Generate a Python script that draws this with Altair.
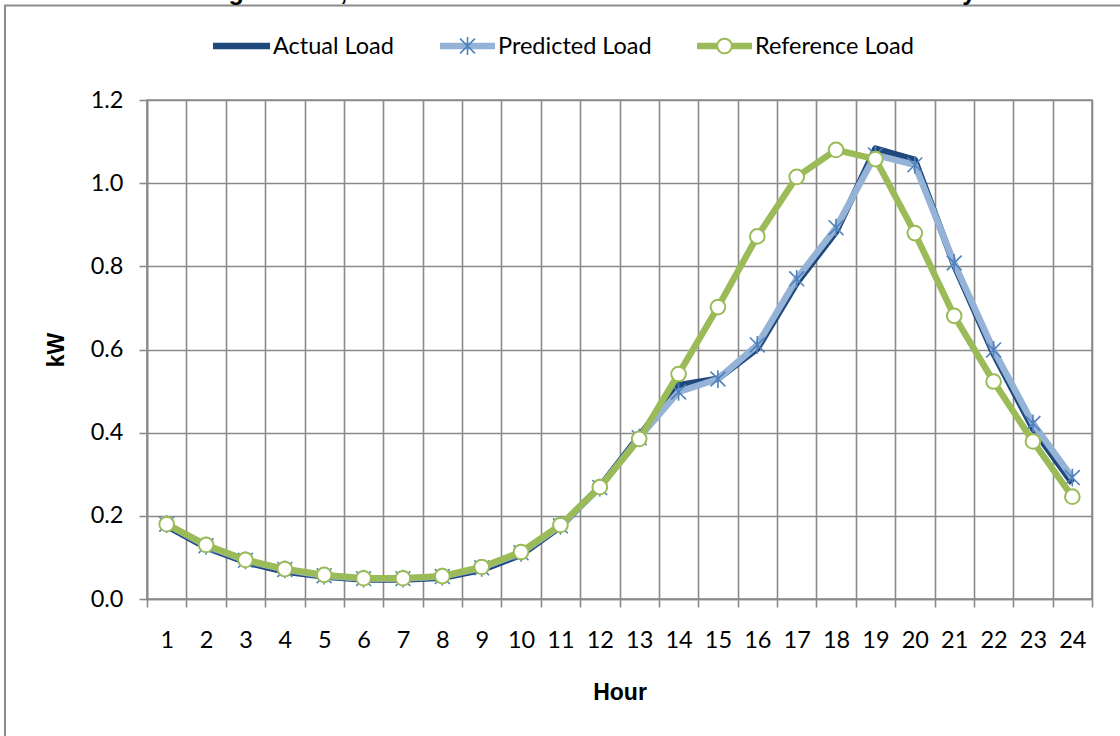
import altair as alt
import pandas as pd

# Hourly load profiles (kW)
hours = list(range(1, 25))
actual_load = [0.176, 0.124, 0.089, 0.066, 0.054, 0.047, 0.047, 0.051, 0.070, 0.106,
               0.174, 0.270, 0.392, 0.514, 0.530, 0.602, 0.760, 0.883, 1.083, 1.056,
               0.803, 0.590, 0.410, 0.279]
predicted_load = [0.180, 0.128, 0.093, 0.071, 0.056, 0.049, 0.049, 0.054, 0.075, 0.111,
                  0.176, 0.268, 0.388, 0.498, 0.529, 0.611, 0.770, 0.893, 1.068, 1.044,
                  0.808, 0.599, 0.422, 0.292]
reference_load = [0.180, 0.130, 0.094, 0.072, 0.058, 0.050, 0.050, 0.055, 0.077, 0.113,
                  0.178, 0.269, 0.385, 0.541, 0.702, 0.872, 1.015, 1.080, 1.058, 0.880,
                  0.681, 0.523, 0.379, 0.246]

series_names = ["Actual Load", "Predicted Load", "Reference Load"]
title_text = "Average Actual, Predicted and Reference Load for Summer Weekdays"
y_ticks = [0.0, 0.2, 0.4, 0.6, 0.8, 1.0, 1.2]

ACTUAL_C = "#1F497D"
PRED_LINE_C = "#95B3D7"
PRED_MARK_C = "#4F81BD"
REF_C = "#9BBB59"
GRID_C = "#8a8a8a"
LABEL_FONT = "Lato"
TITLE_FONT = "Liberation Sans"
STAR = "M-1,-1L1,1M-1,1L1,-1M0,-1.2L0,1.2"
LINE_W = 6.5

df = pd.DataFrame({
    "hour": hours * 3,
    "series": [series_names[0]] * 24 + [series_names[1]] * 24 + [series_names[2]] * 24,
    "kW": actual_load + predicted_load + reference_load,
})

x_enc = alt.X(
    "hour:O",
    scale=alt.Scale(type="band", paddingInner=0, paddingOuter=0),
    axis=alt.Axis(
        title="Hour", tickBand="extent", labelAngle=0, grid=True,
        gridColor=GRID_C, gridWidth=1.6, tickColor=GRID_C, tickWidth=1.6, tickSize=8,
        domainColor=GRID_C, domainWidth=1.6,
        labelFont=LABEL_FONT, labelFontSize=23.5, labelColor="black", labelPadding=21,
        titleFont=TITLE_FONT, titleFontSize=23, titleFontWeight="bold", titleColor="black",
        titlePadding=30,
    ),
)
y_enc = alt.Y(
    "kW:Q",
    scale=alt.Scale(domain=[0, 1.2], nice=False, zero=True),
    axis=alt.Axis(
        title="kW", values=y_ticks, format=".1f", grid=True,
        gridColor=GRID_C, gridWidth=1.6, tickColor=GRID_C, tickWidth=1.6, tickSize=8,
        domainColor=GRID_C, domainWidth=1.6,
        labelFont=LABEL_FONT, labelFontSize=23.5, labelColor="black", labelPadding=16,
        titleFont=TITLE_FONT, titleFontSize=23, titleFontWeight="bold", titleColor="black",
        titlePadding=22,
    ),
)

base = alt.Chart(df).encode(x=x_enc, y=y_enc)


def pick(name):
    return alt.datum.series == name


actual_line = base.transform_filter(pick(series_names[0])).mark_line(
    color=ACTUAL_C, strokeWidth=LINE_W, strokeJoin="round")
pred_line = base.transform_filter(pick(series_names[1])).mark_line(
    color=PRED_LINE_C, strokeWidth=LINE_W, strokeJoin="round")
pred_marks = base.transform_filter(pick(series_names[1])).mark_point(
    shape=STAR, size=220, filled=False, stroke=PRED_MARK_C, strokeWidth=1.6, opacity=1)
ref_line = base.transform_filter(pick(series_names[2])).mark_line(
    color=REF_C, strokeWidth=LINE_W, strokeJoin="round")
ref_marks = base.transform_filter(pick(series_names[2])).mark_point(
    shape="circle", size=215, filled=True, fill="white", stroke=REF_C, strokeWidth=2, opacity=1)

# Legend drawn above the plot area (coordinates relative to the plot origin)
one = pd.DataFrame({"k": [0]})
leg_y = -54
legend_layers = []
items = [
    (series_names[0], 66, 123, ACTUAL_C, None),
    (series_names[1], 293, 348, PRED_LINE_C, "star"),
    (series_names[2], 550, 605, REF_C, "circle"),
]
for name, x0, x1, col, marker in items:
    legend_layers.append(alt.Chart(one).mark_rule(color=col, strokeWidth=LINE_W).encode(
        x=alt.value(x0), x2=alt.value(x1), y=alt.value(leg_y)))
    if marker == "star":
        legend_layers.append(alt.Chart(one).mark_point(
            shape=STAR, size=220, filled=False, stroke=PRED_MARK_C, strokeWidth=1.6, opacity=1
        ).encode(x=alt.value((x0 + x1) / 2), y=alt.value(leg_y)))
    elif marker == "circle":
        legend_layers.append(alt.Chart(one).mark_point(
            shape="circle", size=215, filled=True, fill="white", stroke=REF_C, strokeWidth=2, opacity=1
        ).encode(x=alt.value((x0 + x1) / 2), y=alt.value(leg_y)))
    legend_layers.append(alt.Chart(one).mark_text(
        text=name, align="left", baseline="middle", font=LABEL_FONT, fontSize=23.5, color="black"
    ).encode(x=alt.value(x1 + 3), y=alt.value(leg_y + 1)))

title_layer = alt.Chart(one).mark_text(
    text=title_text, align="center", baseline="alphabetic", font=TITLE_FONT,
    fontSize=25, fontWeight="bold", color="black"
).encode(x=alt.value(428), y=alt.value(-100))

frame = alt.Chart(one).mark_rect(
    fill="white", fillOpacity=0, stroke="#8c8c8c", strokeWidth=2
).encode(x=alt.value(-142), y=alt.value(-94.5), x2=alt.value(1000), y2=alt.value(700))

chart = alt.layer(
    frame, title_layer, actual_line, pred_line, pred_marks, ref_line, ref_marks, *legend_layers
).properties(
    width=945, height=499,
    padding={"left": 147, "top": 100, "right": 28, "bottom": 137},
    autosize=alt.AutoSizeParams(type="none"),
    background="white",
).configure_view(stroke=GRID_C, strokeWidth=1.6)

chart.save("out.html", embed_options={"renderer": "svg", "actions": False})
